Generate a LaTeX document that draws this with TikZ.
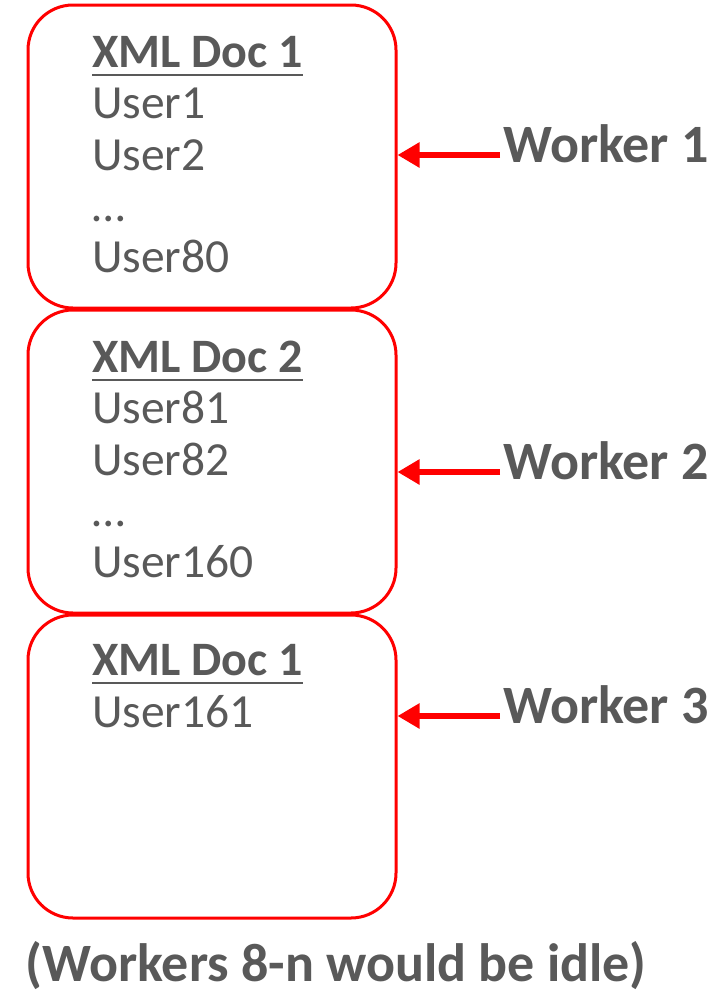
\documentclass[tikz,border=0pt]{standalone}
\usepackage{fontspec}
\setmainfont{Carlito}
\usetikzlibrary{arrows.meta}
\definecolor{txtgray}{HTML}{595959}
\definecolor{boxred}{HTML}{FF0000}
\tikzset{
  docbox/.style={draw=boxred, line width=3pt, rounded corners=45pt, minimum width=368pt, minimum height=303pt, inner sep=0pt},
  title/.style={anchor=base west, inner sep=0pt, text=txtgray, font=\fontsize{48}{48}\selectfont\bfseries},
  item/.style={anchor=base west, inner sep=0pt, text=txtgray, font=\fontsize{47.5}{47.5}\selectfont},
  worker/.style={anchor=base west, inner sep=0pt, text=txtgray, font=\fontsize{54}{54}\selectfont\bfseries},
  uline/.style={draw=txtgray, line width=2.5pt},
  arr/.style={draw=boxred, line width=6pt, -{Triangle[length=22pt, width=24pt]}}
}
\begin{document}
\begin{tikzpicture}[x=1pt, y=-1pt]
\useasboundingbox (0,0) rectangle (725,993);
% boxes
\node[docbox] (box1) at (212,156.5) {};
\node[docbox] (box2) at (212,461.5) {};
\node[docbox] (box3) at (212,766.5) {};
% box 1 text
\node[title] (t1) at (92,67) {XML Doc 1};
\draw[uline] ([yshift=-8pt]t1.base west) -- ([yshift=-8pt]t1.base east);
\node[item] (u1a) at (92,118) {User1};
\node[item] (u1b) at (92,170) {User2};
\node[item] (u1c) at (92,221) {\dots};
\node[item] (u1d) at (92,272) {User80};
% box 2 text
\node[title] (t2) at (92,372) {XML Doc 2};
\draw[uline] ([yshift=-8pt]t2.base west) -- ([yshift=-8pt]t2.base east);
\node[item] (u2a) at (92,423) {User81};
\node[item] (u2b) at (92,475) {User82};
\node[item] (u2c) at (92,526) {\dots};
\node[item] (u2d) at (92,577) {User160};
% box 3 text
\node[title] (t3) at (92,675) {XML Doc 1};
\draw[uline] ([yshift=-8pt]t3.base west) -- ([yshift=-8pt]t3.base east);
\node[item] (u3a) at (92,727) {User161};
% workers
\node[worker] (w1) at (503,162) {Worker 1};
\node[worker] (w2) at (503,479) {Worker 2};
\node[worker] (w3) at (503,723) {Worker 3};
\coordinate (a1) at (500,155);
\coordinate (a2) at (500,472);
\coordinate (a3) at (500,716);
\draw[arr] (a1) -- (box1.east |- a1);
\draw[arr] (a2) -- (box2.east |- a2);
\draw[arr] (a3) -- (box3.east |- a3);
% footer
\node[worker, anchor=base] (foot) at (336,981) {(Workers 8-n would be idle)};
\end{tikzpicture}
\end{document}
